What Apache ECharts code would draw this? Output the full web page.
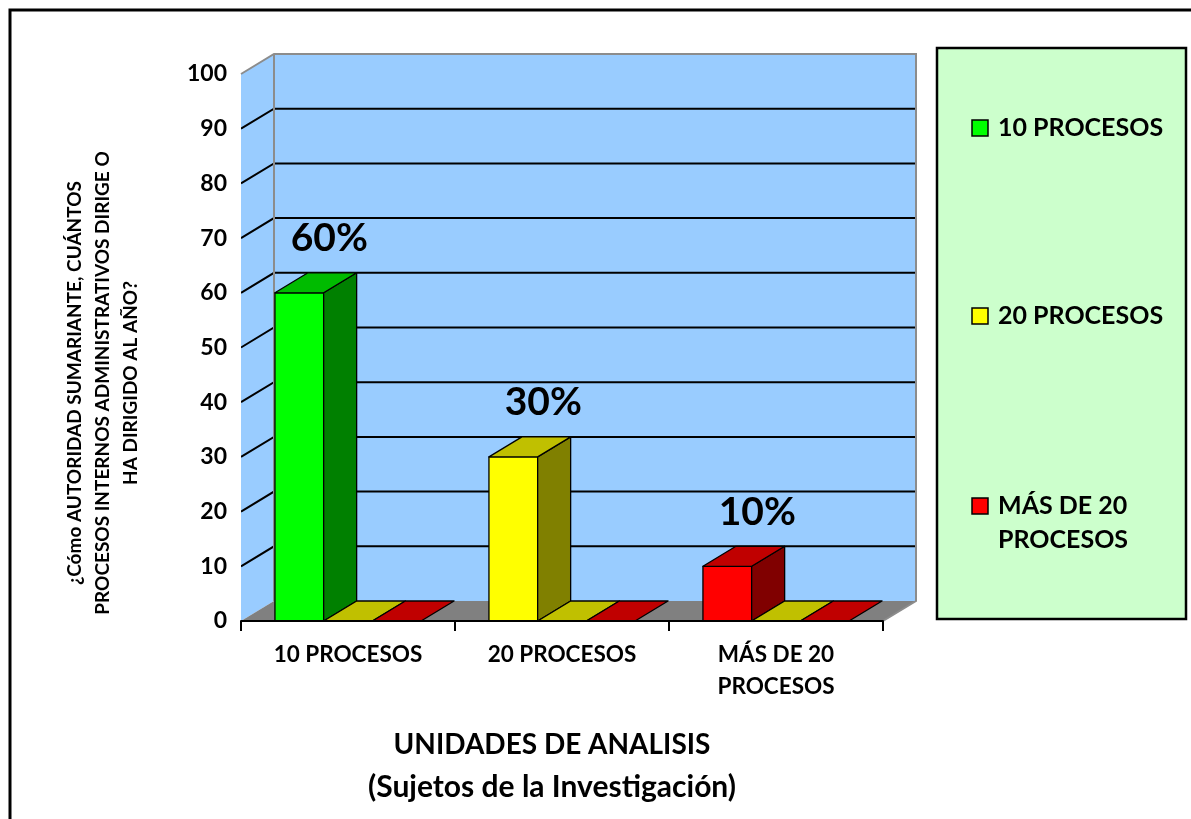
<!DOCTYPE html>
<html>
<head>
<meta charset="utf-8">
<script src="https://cdn.jsdelivr.net/npm/echarts@6/dist/echarts.min.js"></script>
<style>
  html, body { margin: 0; padding: 0; background: #ffffff; }
  #chart { width: 1191px; height: 819px; }
</style>
</head>
<body>
<div id="chart"></div>
<script>
// Categories on the horizontal axis
const categories = ['10 PROCESOS', '20 PROCESOS', 'MÁS DE 20\nPROCESOS'];
// Main series: one bar per category (percent of answers)
const mainValues = [60, 30, 10];
const mainLabels = ['60%', '30%', '10%'];
// Two companion series with no answers (flat bars)
const secondValues = [0, 0, 0];
const thirdValues = [0, 0, 0];
// Value axis ticks
const yTicks = [0, 10, 20, 30, 40, 50, 60, 70, 80, 90, 100];
// Legend entries
const legendNames = ['10 PROCESOS', '20 PROCESOS', 'MÁS DE 20\nPROCESOS'];

const FONT = 'Lato, "Open Sans", "DejaVu Sans", sans-serif';
const DX = 33, DY = 20;           // depth offset of the 3D box
const BAR_RATIO = 0.2276;         // bar width as share of a category band

// front / top / side shades for each colour
const shades = {
  green:  { front: '#00FF00', top: '#00BB00', side: '#008000' },
  yellow: { front: '#FFFF00', top: '#C0C000', side: '#808000' },
  red:    { front: '#FF0000', top: '#C00000', side: '#800000' }
};
const mainColors = ['green', 'yellow', 'red'];

function toPairs(values) {
  return values.map((v, i) => [i, v]);
}

// Walls, floor and gridlines of the 3D box
function renderWalls(params, api) {
  const cs = params.coordSys;
  const x0 = cs.x, x1 = cs.x + cs.width;
  const yBase = api.coord([0, yTicks[0]])[1];
  const yTop = api.coord([0, yTicks[yTicks.length - 1]])[1];
  const children = [
    { type: 'polygon', shape: { points: [[x0, yTop], [x0 + DX, yTop - DY], [x0 + DX, yBase - DY], [x0, yBase]] },
      style: { fill: '#99CCFF' } },
    { type: 'rect', shape: { x: x0 + DX, y: yTop - DY, width: x1 - x0, height: yBase - yTop },
      style: { fill: '#99CCFF' } },
    { type: 'polygon', shape: { points: [[x0, yBase], [x0 + DX, yBase - DY], [x1 + DX, yBase - DY], [x1, yBase]] },
      style: { fill: '#808080' } }
  ];
  yTicks.slice(1, -1).forEach(function (v) {
    const y = api.coord([0, v])[1];
    children.push({ type: 'polyline', shape: { points: [[x0, y], [x0 + DX, y - DY], [x1 + DX, y - DY]] },
      style: { stroke: '#000000', lineWidth: 2, fill: null } });
  });
  // wall borders
  children.push({ type: 'polyline', shape: { points: [[x0, yTop], [x0 + DX, yTop - DY], [x1 + DX, yTop - DY], [x1 + DX, yBase - DY], [x1, yBase]] },
    style: { stroke: '#8C8C8C', lineWidth: 2, fill: null } });
  children.push({ type: 'line', shape: { x1: x0 + DX, y1: yTop - DY, x2: x0 + DX, y2: yBase - DY },
    style: { stroke: '#8C8C8C', lineWidth: 2 } });
  children.push({ type: 'line', shape: { x1: x0 - 1, y1: yTop, x2: x0 - 1, y2: yBase },
    style: { stroke: '#ffffff', lineWidth: 2 } });
  return { type: 'group', children: children };
}

// A 3D bar in a given slot of the category band
function makeBarRenderer(slot, colorOf, withLabel) {
  return function (params, api) {
    const ci = api.value(0), v = api.value(1);
    const base = api.coord([ci, 0]);
    const top = api.coord([ci, v]);
    const band = api.size([1, 0])[0];
    const bw = band * BAR_RATIO;
    const xl = base[0] - 1.5 * bw + slot * bw;
    const xr = xl + bw;
    const yb = base[1], yt = top[1];
    const c = shades[colorOf(ci)];
    const stroke = { stroke: '#000000', lineWidth: 1.3, lineJoin: 'round' };
    const children = [];
    if (yb - yt > 0.5) {
      children.push({ type: 'rect', shape: { x: xl, y: yt, width: bw, height: yb - yt },
        style: Object.assign({ fill: c.front }, stroke) });
      children.push({ type: 'polygon', shape: { points: [[xr, yt], [xr + DX, yt - DY], [xr + DX, yb - DY], [xr, yb]] },
        style: Object.assign({ fill: c.side }, stroke) });
    }
    children.push({ type: 'polygon', shape: { points: [[xl, yt], [xl + DX, yt - DY], [xr + DX, yt - DY], [xr, yt]] },
      style: Object.assign({ fill: c.top }, stroke) });
    if (withLabel) {
      children.push({ type: 'text', x: xl + bw / 2 + 30, y: yt - 54,
        style: { text: mainLabels[ci], fill: '#000000', font: 'bold 39px ' + FONT,
                 textAlign: 'center', textVerticalAlign: 'middle' } });
    }
    return { type: 'group', children: children };
  };
}

// Legend box and entries
const legendColors = ['green', 'yellow', 'red'];
const legendY = [128, 316, 506];
const legendGraphics = [{
  type: 'rect', shape: { x: 937, y: 48, width: 249, height: 571 },
  style: { fill: '#CCFFCC', stroke: '#000000', lineWidth: 2.5 }, z: 10
}];
legendNames.forEach(function (name, i) {
  legendGraphics.push({ type: 'rect', shape: { x: 972, y: legendY[i] - 8, width: 16, height: 16 },
    style: { fill: shades[legendColors[i]].front, stroke: '#000000', lineWidth: 1.5 }, z: 11 });
  legendGraphics.push({ type: 'text', x: 998, y: legendY[i] - 17,
    style: { text: name, fill: '#000000', font: 'bold 25px ' + FONT, lineHeight: 34,
             textAlign: 'left', textVerticalAlign: 'top' }, z: 11 });
});

const chart = echarts.init(document.getElementById('chart'), null, { renderer: 'canvas' });
chart.setOption({
  backgroundColor: '#ffffff',
  animation: false,
  grid: { left: 241, top: 74, width: 642, height: 547 },
  xAxis: {
    type: 'category',
    data: categories,
    boundaryGap: true,
    axisLine: { show: true, lineStyle: { color: '#000000', width: 2 } },
    axisTick: { show: true, length: 10, lineStyle: { color: '#000000', width: 2 } },
    axisLabel: { color: '#000000', fontFamily: FONT, fontWeight: 'bold', fontSize: 22.5, lineHeight: 32, margin: 18, interval: 0 },
    splitLine: { show: false },
    z: 5
  },
  yAxis: {
    type: 'value',
    min: 0, max: 100, interval: 10,
    axisLine: { show: false },
    axisTick: { show: false },
    splitLine: { show: false },
    axisLabel: { color: '#000000', fontFamily: FONT, fontWeight: 'bold', fontSize: 23, margin: 14 }
  },
  series: [
    { type: 'custom', name: 'walls', renderItem: renderWalls, data: [[0, 0]], z: 1, silent: true, clip: false },
    { type: 'custom', name: 'principal', renderItem: makeBarRenderer(0, function (ci) { return mainColors[ci]; }, true),
      data: toPairs(mainValues), z: 3, clip: false },
    { type: 'custom', name: 'segunda', renderItem: makeBarRenderer(1, function () { return 'yellow'; }, false),
      data: toPairs(secondValues), z: 3, clip: false },
    { type: 'custom', name: 'tercera', renderItem: makeBarRenderer(2, function () { return 'red'; }, false),
      data: toPairs(thirdValues), z: 3, clip: false }
  ],
  graphic: [
    { type: 'rect', shape: { x: 10, y: 10, width: 1200, height: 900 },
      style: { fill: null, stroke: '#000000', lineWidth: 3 }, z: 20 },
    { type: 'text', x: 103, y: 383, rotation: Math.PI / 2,
      style: { text: '¿Cómo AUTORIDAD SUMARIANTE, CUÁNTOS\nPROCESOS INTERNOS ADMINISTRATIVOS DIRIGE O\nHA DIRIGIDO AL AÑO?',
               fill: '#000000', font: 'bold 19px ' + FONT, lineHeight: 28,
               textAlign: 'center', textVerticalAlign: 'middle' } },
    { type: 'text', x: 552, y: 745,
      style: { text: 'UNIDADES DE ANALISIS', fill: '#000000', font: 'bold 28px ' + FONT,
               textAlign: 'center', textVerticalAlign: 'middle' } },
    { type: 'text', x: 552, y: 787,
      style: { text: '(Sujetos de la Investigación)', fill: '#000000', font: 'bold 30px ' + FONT,
               textAlign: 'center', textVerticalAlign: 'middle' } }
  ].concat(legendGraphics)
});
</script>
</body>
</html>
